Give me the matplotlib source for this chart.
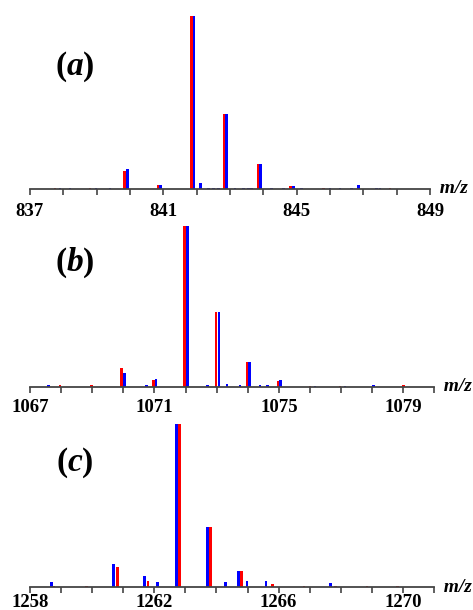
import numpy as np
import matplotlib
matplotlib.use("Agg")
import matplotlib.pyplot as plt

plt.rcParams['mathtext.fontset'] = 'custom'
plt.rcParams['mathtext.rm'] = 'Liberation Serif:bold'
plt.rcParams['mathtext.it'] = 'Liberation Serif:bold:italic'
plt.rcParams['mathtext.bf'] = 'Liberation Serif:bold'

# ---- panel (a) ----
a_red_mz = [837.75, 838.8, 839.84, 840.84, 841.84, 842.82, 843.84, 844.82, 845.8, 847.8]
a_red_int = [0.008, 0.006, 0.106, 0.025, 1.0, 0.434, 0.143, 0.017, 0.006, 0.006]
a_blue_mz = [837.9, 838.2, 838.98, 839.4, 839.92, 840.92, 841.92, 842.12, 842.35, 842.5,
             842.65, 842.9, 843.15, 843.4, 843.55, 843.65, 843.92, 844.25, 844.6, 844.91,
             845.15, 846.0, 846.3, 846.65, 846.85, 847.4, 847.5]
a_blue_int = [0.008, 0.006, 0.008, 0.008, 0.116, 0.025, 1.0, 0.033, 0.008, 0.008,
              0.008, 0.434, 0.008, 0.008, 0.008, 0.008, 0.143, 0.008, 0.008, 0.02,
              0.008, 0.006, 0.006, 0.008, 0.025, 0.008, 0.008]

# ---- panel (b) ----
b_red_mz = [1067.96, 1068.98, 1069.94, 1070.97, 1071.97, 1072.98, 1073.97, 1074.97, 1076.0, 1076.97, 1079.0]
b_red_int = [0.008, 0.008, 0.115, 0.042, 1.0, 0.467, 0.156, 0.037, 0.006, 0.006, 0.008]
b_blue_mz = [1067.59, 1070.04, 1070.75, 1071.05, 1072.06, 1072.7, 1073.07, 1073.34, 1073.75,
             1074.05, 1074.4, 1074.63, 1075.06, 1076.16, 1077.13, 1078.04]
b_blue_int = [0.008, 0.087, 0.008, 0.046, 1.0, 0.008, 0.467, 0.014, 0.008,
              0.156, 0.008, 0.008, 0.044, 0.006, 0.006, 0.012]

# ---- panel (c) ----
c_blue_mz = [1258.69, 1260.69, 1261.69, 1262.11, 1262.72, 1263.71, 1264.29, 1264.71,
             1264.99, 1265.6, 1267.67]
c_blue_int = [0.031, 0.144, 0.072, 0.031, 1.0, 0.369, 0.031, 0.097,
              0.037, 0.037, 0.029]
c_red_mz = [1258.78, 1259.82, 1260.82, 1261.8, 1262.81, 1263.81, 1264.8, 1265.81,
            1266.81, 1267.83, 1268.84, 1269.83]
c_red_int = [0.006, 0.006, 0.127, 0.041, 1.0, 0.369, 0.097, 0.02,
             0.006, 0.006, 0.006, 0.006]

panels = [
    ("a", (837, 849), [837, 841, 845, 849], a_red_mz, a_red_int, a_blue_mz, a_blue_int),
    ("b", (1067, 1080), [1067, 1071, 1075, 1079], b_red_mz, b_red_int, b_blue_mz, b_blue_int),
    ("c", (1258, 1271), [1258, 1262, 1266, 1270], c_red_mz, c_red_int, c_blue_mz, c_blue_int),
]

W, H = 473, 610
# axes boxes in pixels: left, right, top, bottom
boxes = [(30, 430, 16, 189), (30, 434.4, 226, 386.7), (30, 434, 424, 587.3)]
label_y = [66.5, 262.7, 462.5]
label_pad = [5.5, 4.0, 0.2]

fig = plt.figure(figsize=(W / 100, H / 100), dpi=100)

for (name, xlim, labels, rmz, rint, bmz, bint), (l, r, t, b), ly, pad in zip(panels, boxes, label_y, label_pad):
    ax = fig.add_axes([l / W, 1 - b / H, (r - l) / W, (b - t) / H])
    ax.bar(rmz, rint, width=0.08, color="#ff0000", linewidth=0)
    ax.bar(bmz, bint, width=0.08, color="#0000ff", linewidth=0)
    ax.set_xlim(*xlim)
    ax.set_ylim(0, 1.0)
    for s in ["top", "left", "right"]:
        ax.spines[s].set_visible(False)
    ax.spines["bottom"].set_color("#444444")
    ax.spines["bottom"].set_linewidth(1.3)
    ax.set_yticks([])
    ticks = np.arange(xlim[0], xlim[1] + 1)
    ax.set_xticks(ticks)
    ax.set_xticklabels([str(v) if v in labels else "" for v in ticks])
    ax.tick_params(axis="x", direction="out", length=4.5, width=1.2, color="#444444", pad=pad)
    for lab in ax.get_xticklabels():
        lab.set_fontfamily("Liberation Serif")
        lab.set_fontweight("bold")
        lab.set_fontsize(13.5)
    ax.text(1.0, 0.0, "  m/z", transform=ax.transAxes, ha="left", va="center",
            fontfamily="Liberation Serif", fontweight="bold", fontstyle="italic", fontsize=14)
    fig.text(75 / W, 1 - ly / H, r"$(\mathit{%s})$" % name, ha="center", va="center", fontsize=24)

fig.savefig("out.png", dpi=100)
